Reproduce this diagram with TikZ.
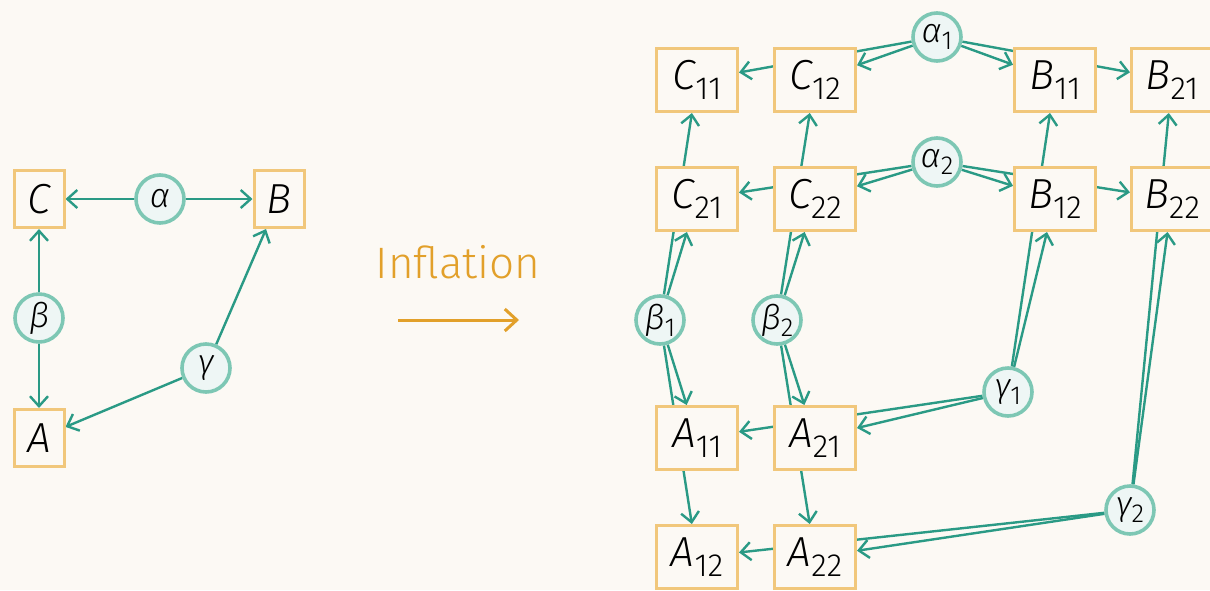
\documentclass[tikz,border=0pt]{standalone}
\usepackage{fontspec}
\setmainfont{Fira Sans}[UprightFont=* Light, ItalicFont=* Light Italic]
\usetikzlibrary{arrows.meta,backgrounds}

\definecolor{paper}{HTML}{FCF9F4}
\definecolor{boxline}{HTML}{F1C77B}
\definecolor{latline}{HTML}{7DC7B4}
\definecolor{latfill}{HTML}{EEF6F5}
\definecolor{edgecol}{HTML}{2A9A85}
\definecolor{inflcol}{HTML}{E2A02A}

% variable with an upright subscript
\newcommand{\ovar}[2]{\textit{#1}\raisebox{-0.45ex}{\fontsize{16}{16}\selectfont\upshape #2}}
\newcommand{\lvar}[2]{\textit{#1}\raisebox{-0.4ex}{\fontsize{13}{13}\selectfont\upshape #2}}

\begin{document}
\begin{tikzpicture}[x=0.5pt,y=-0.5pt,
  obs/.style={draw=boxline, line width=1.5pt, fill=paper, inner sep=0pt,
    minimum width=25pt, minimum height=28.5pt, font=\fontsize{21}{24}\selectfont\itshape},
  obswide/.style={obs, minimum width=40.5pt, minimum height=31.5pt},
  lat/.style={circle, draw=latline, line width=1.8pt, fill=latfill, inner sep=0pt,
    minimum size=24pt, font=\fontsize{17}{18}\selectfont\itshape},
  link/.style={draw=edgecol, line width=1.2pt, -{Straight Barb[length=5pt,width=9pt]}}]
\useasboundingbox (0,0) rectangle (1210,590);

% original network
\node[obs] (C) at (39,199) {C};
\node[obs] (B) at (279,199) {B};
\node[obs] (A) at (39,438) {A};
\node[lat] (al) at (160,199) {α};
\node[lat] (be) at (39,318) {β};
\node[lat] (ga) at (206,368) {γ};

% inflation arrow
\node[text=inflcol, font=\fontsize{22}{26}\selectfont] (infl) at (458,262) {Inflation};
\coordinate (ia) at (398,320);
\coordinate (ib) at (519,320);

% inflated network
\node[obswide] (C11) at (697,80) {\ovar{C}{11}};
\node[obswide] (C12) at (815,80) {\ovar{C}{12}};
\node[obswide] (B11) at (1055,80) {\ovar{B}{11}};
\node[obswide] (B21) at (1172,80) {\ovar{B}{21}};

\node[obswide] (C21) at (697,199) {\ovar{C}{21}};
\node[obswide] (C22) at (815,199) {\ovar{C}{22}};
\node[obswide] (B12) at (1055,199) {\ovar{B}{12}};
\node[obswide] (B22) at (1172,199) {\ovar{B}{22}};

\node[obswide] (A11) at (697,438) {\ovar{A}{11}};
\node[obswide] (A21) at (815,438) {\ovar{A}{21}};
\node[obswide] (A12) at (697,557) {\ovar{A}{12}};
\node[obswide] (A22) at (815,557) {\ovar{A}{22}};

\node[lat] (al1) at (937,37) {\lvar{α}{1}};
\node[lat] (al2) at (937,162) {\lvar{α}{2}};
\node[lat] (be1) at (660,320) {\lvar{β}{1}};
\node[lat] (be2) at (777,320) {\lvar{β}{2}};
\node[lat] (ga1) at (1008,392) {\lvar{γ}{1}};
\node[lat] (ga2) at (1130,510) {\lvar{γ}{2}};

\begin{pgfonlayer}{background}
\fill[paper] (0,0) rectangle (1210,590);

\draw[link] (al) -- (C);
\draw[link] (al) -- (B);
\draw[link] (be) -- (C);
\draw[link] (be) -- (A);
\draw[link] (ga) -- (B);
\draw[link] (ga) -- (A);

\draw[inflcol, line width=1.5pt, -{Straight Barb[length=6pt,width=11pt]}] (ia) -- (ib);

\draw[link] (al1) -- (C12);
\draw[link] (al1) -- (C11);
\draw[link] (al1) -- (B11);
\draw[link] (al1) -- (B21);

\draw[link] (al2) -- (C22);
\draw[link] (al2) -- (C21);
\draw[link] (al2) -- (B12);
\draw[link] (al2) -- (B22);

\draw[link] (be1) -- (C21);
\draw[link] (be1) -- (C11);
\draw[link] (be1) -- (A11);
\draw[link] (be1) -- (A12);

\draw[link] (be2) -- (C22);
\draw[link] (be2) -- (C12);
\draw[link] (be2) -- (A21);
\draw[link] (be2) -- (A22);

\draw[link] (ga1) -- (B12);
\draw[link] (ga1) -- (B11);
\draw[link] (ga1) -- (A21);
\draw[link] (ga1) -- (A11);

\draw[link] (ga2) -- (B22);
\draw[link] (ga2) -- (B21);
\draw[link] (ga2) -- (A22);
\draw[link] (ga2) -- (A12);
\end{pgfonlayer}
\end{tikzpicture}
\end{document}
